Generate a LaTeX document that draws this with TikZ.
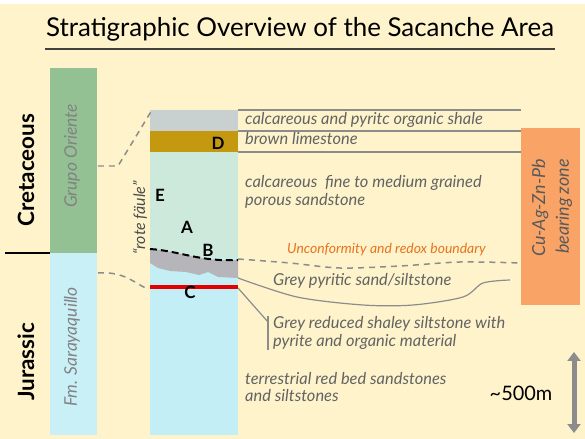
\documentclass[tikz,border=0pt]{standalone}
\usepackage{fontspec}
\setmainfont{Lato}
\usetikzlibrary{arrows.meta}

\definecolor{cream}{HTML}{FEF3CB}
\definecolor{orientegreen}{HTML}{93C193}
\definecolor{sarayblue}{HTML}{C9F0F7}
\definecolor{shalegrey}{HTML}{C8D1CF}
\definecolor{limebrown}{HTML}{C5990F}
\definecolor{sandgreen}{HTML}{CCE9DB}
\definecolor{pyritegrey}{HTML}{B6B6BA}
\definecolor{redbedblue}{HTML}{C3EEF6}
\definecolor{zoneorange}{HTML}{F9A466}
\definecolor{txtgrey}{HTML}{636363}
\definecolor{lblorange}{HTML}{E8731E}
\definecolor{linegrey}{HTML}{8C8C8C}

\begin{document}
\begin{tikzpicture}[x=1bp,y=-1bp]
  \tikzset{descr/.style={anchor=west,inner sep=0pt,text=txtgrey,text height=0.7em,text depth=0.2em,
      font=\fontsize{16.5}{18}\selectfont\itshape},
    unitname/.style={rotate=90,inner sep=0pt,text=txtgrey!80,font=\fontsize{17.5}{19}\selectfont\itshape},
    period/.style={rotate=90,inner sep=0pt,font=\fontsize{22.5}{25}\selectfont\bfseries},
    bedletter/.style={inner sep=0pt,font=\fontsize{17}{18}\selectfont\bfseries},
    bound/.style={linegrey,line width=1.2pt},
    link/.style={linegrey,line width=1.5pt,dash pattern=on 6pt off 5pt}}
  \useasboundingbox (0,0) rectangle (585,439);
  \fill[white] (0,0) rectangle (585,439);
  \fill[cream] (0,4) rectangle (585,439);
  % title
  \node (title) at (300,29) [inner sep=0pt,font=\fontsize{26}{28}\selectfont] {Stratigraphic Overview of the Sacanche Area};
  \draw[line width=1.5pt,black!75] (45,49) -- (555,49);
  % periods and formations
  \node (cret) at (26,170) [period] {Cretaceous};
  \node (jura) at (26,362) [period] {Jurassic};
  \draw[line width=2pt] (5,253) -- (97,253);
  \fill[orientegreen] (50,68) rectangle (97,253);
  \fill[sarayblue] (50,253) rectangle (97,435);
  \node (oriente) at (72,156) [unitname] {Grupo Oriente};
  \node (saray) at (72,347) [unitname] {Fm. Sarayaquillo};
  % column
  \fill[shalegrey] (150,110) rectangle (238,131);
  \fill[limebrown] (150,131) rectangle (238,152);
  \fill[sandgreen] (150,152) rectangle (238,262);
  \fill[redbedblue] (150,258) rectangle (238,435);
  \fill[pyritegrey] (150,249) .. controls (180,251) and (200,262) .. (238,260) -- (238,278)
    -- (218,277) -- (208,272) -- (199,275) -- (186,272) -- (170,271) -- (158,268) -- (150,263) -- cycle;
  \draw[line width=2pt,dash pattern=on 7pt off 4pt] (150,249) .. controls (180,251) and (200,262) .. (238,260);
  \draw[red!90!black,line width=4pt] (150,287) -- (238,287);
  \node (bedD) at (218,143) [bedletter] {D};
  \node (bedE) at (160,195) [bedletter] {E};
  \node (bedA) at (187,227) [bedletter] {A};
  \node (bedB) at (208,250) [bedletter] {B};
  \node (bedC) at (190,292) [bedletter] {C};
  \node (rote) at (140,218) [rotate=90,inner sep=0pt,text=black!70,font=\fontsize{16}{18}\selectfont\itshape] {“rote fäule”};
  % links from formations to column
  \coordinate (oriE) at (98,166);
  \coordinate (colTop) at (152,110);
  \coordinate (sarE) at (98,273);
  \coordinate (redL) at (148,289);
  \draw[link] (oriE) -- ++(20,0) -- (colTop);
  \draw[link] (sarE) .. controls (125,271) and (135,284) .. (redL);
  % bed boundaries and descriptions
  \draw[bound] (238,110) -- (521,110);
  \draw[bound] (238,131) -- (521,131);
  \draw[bound] (238,152) -- (521,152);
  \node (shale) at (245,122) [descr] {calcareous and pyritc organic shale};
  \node (lime) at (245,142) [descr] {brown limestone};
  \node (sand1) at (245,185) [descr] {calcareous\ \ fine to medium grained};
  \node (sand2) at (245,203) [descr] {porous sandstone};
  \node (unconf) at (287,251) [descr,text=lblorange,font=\fontsize{14}{16}\selectfont\itshape] {Unconformity and redox boundary};
  \draw[link] plot[smooth] coordinates {(238,259) (290,263) (340,268) (400,266) (460,262) (521,263)};
  \draw[bound] plot[smooth] coordinates {(238,278) (297,297) (363,305) (413,305) (463,297) (483,283) (510,280)};
  \node (pyrsand) at (273,283) [descr] {Grey pyritic sand/siltstone};
  \draw[bound] (238,288) -- (268,322);
  \draw[bound] (268,316) -- (268,350);
  \node (shaley1) at (273,326) [descr] {Grey reduced shaley siltstone with};
  \node (shaley2) at (273,344) [descr] {pyrite and organic material};
  \node (redbed1) at (245,382) [descr] {terrestrial red bed sandstones};
  \node (redbed2) at (245,399) [descr] {and siltstones};
  % ore zone
  \fill[zoneorange] (521,128) rectangle (580,305);
  \node (zone) at (552,208) [rotate=90,align=right,inner sep=0pt,text=black!65,
    font=\fontsize{18}{24}\selectfont\itshape] {Cu-Ag-Zn-Pb\\bearing zone};
  % scale
  \node (thick) at (521,393) [inner sep=0pt,font=\fontsize{20}{22}\selectfont] {\textasciitilde 500m};
  \coordinate (scaleTop) at (574,352);
  \coordinate (scaleBot) at (574,433);
  \draw[linegrey,line width=5pt,{Triangle[length=9pt,width=13pt]}-{Triangle[length=9pt,width=13pt]}] (scaleTop) -- (scaleBot);
\end{tikzpicture}
\end{document}
